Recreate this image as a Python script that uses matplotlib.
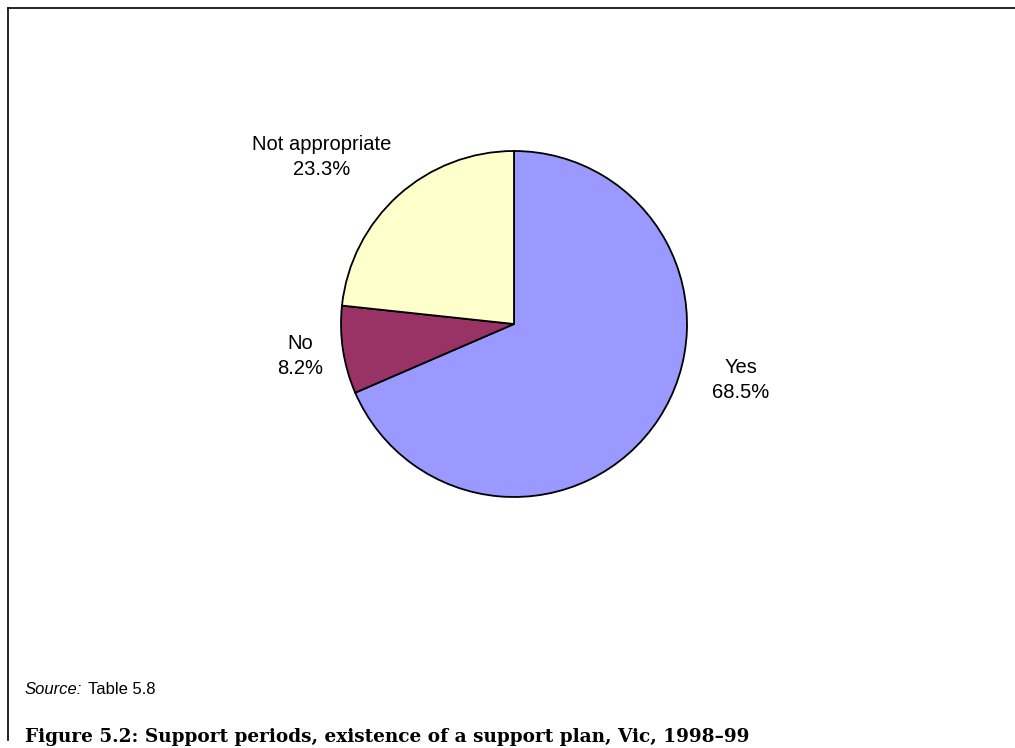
import matplotlib.pyplot as plt
from matplotlib.lines import Line2D

# data
categories = ['Yes', 'No', 'Not appropriate']
shares = [68.5, 8.2, 23.3]
colours = ['#9999FF', '#993366', '#FFFFCC']

W, H = 1015, 748
fig = plt.figure(figsize=(W / 100, H / 100), dpi=100)

# pie centre / radius in pixels
cx, cy, r = 514, 324, 173
ax = fig.add_axes([(cx - r) / W, (H - cy - r) / H, 2 * r / W, 2 * r / H])
ax.pie(shares, colors=colours, startangle=90, counterclock=False,
       wedgeprops=dict(edgecolor='black', linewidth=1.3))
ax.set_xlim(-1, 1)
ax.set_ylim(-1, 1)
ax.set_aspect('equal')
ax.axis('off')

# label positions (pixel centres)
label_pos = [(741, 380), (300, 356), (322, 157)]
for cat, val, (px, py) in zip(categories, shares, label_pos):
    fig.text(px / W, 1 - py / H, f'{cat}\n{val:.1f}%', ha='center', va='center',
             multialignment='center', fontsize=14.5, family='Liberation Sans',
             linespacing=1.35)

# frame lines (top and left only)
fig.add_artist(Line2D([8 / W, 8 / W], [1 - 8 / H, 1 - 740 / H], color='black', lw=1.2))
fig.add_artist(Line2D([8 / W, 1], [1 - 8 / H, 1 - 8 / H], color='black', lw=1.2))

# source
src = fig.text(25 / W, 1 - 690 / H, 'Source:', style='italic', fontsize=12,
               family='Liberation Sans', va='center')
fig.canvas.draw()
bb = src.get_window_extent()
fig.text((bb.x1 + 6) / W, 1 - 690 / H, 'Table 5.8', fontsize=12,
         family='Liberation Sans', va='center')

fig.text(25 / W, 1 - 737 / H,
         'Figure 5.2: Support periods, existence of a support plan, Vic, 1998\u201399',
         fontsize=13.35, weight='bold', family='DejaVu Serif', va='center')

fig.savefig('out.png', dpi=100)
